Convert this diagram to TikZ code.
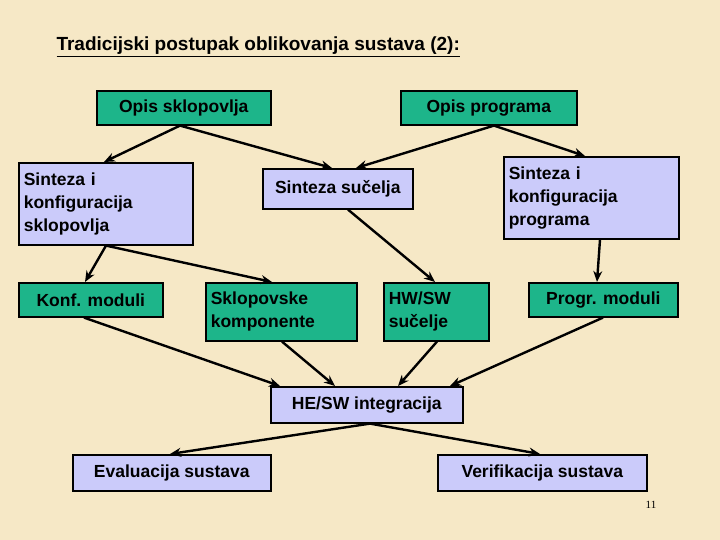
\documentclass[tikz,border=0pt]{standalone}
\usepackage{fontspec}
\setmainfont{Liberation Sans}
\newfontfamily\pgnum{Liberation Serif}
\usetikzlibrary{calc,arrows.meta}
\definecolor{bg}{HTML}{F6E8C6}
\definecolor{grn}{HTML}{1DB58A}
\definecolor{lav}{HTML}{CBCBFA}
\tikzset{
 bx/.style={draw=black,line width=1.6pt,anchor=north west,inner sep=3pt,align=left,font=\bfseries\fontsize{17.5}{23}\selectfont},
 gb/.style={bx,fill=grn},
 lb/.style={bx,fill=lav},
 con/.style={line width=2.4pt,-{Stealth[length=11pt,width=9pt]}}
}
\begin{document}
\begin{tikzpicture}[x=1pt,y=-1pt]
\fill[bg] (0,0) rectangle (720,540);
\node[anchor=west,font=\bfseries\fontsize{19}{21}\selectfont] (t) at (53,47) {\underline{Tradicijski postupak oblikovanja sustava (2):}};
\node[gb,minimum width=174,minimum height=34] (os) at (96,90) {Opis sklopovlja};
\node[gb,minimum width=176,minimum height=34,align=center] (op) at (400,90) {Opis programa};
\node[lb,minimum width=174,minimum height=82,text width=164] (ss) at (18,162) {Sinteza i\\konfiguracija\\sklopovlja};
\node[lb,minimum width=150,minimum height=40,align=center] (su) at (262,168) {Sinteza sučelja};
\node[lb,minimum width=175,minimum height=82,text width=165] (sp) at (503,156) {Sinteza i\\konfiguracija\\programa};
\node[gb,minimum width=144,minimum height=34] (km) at (18,282) {Konf. moduli};
\node[gb,minimum width=151,minimum height=58,text width=141] (sk) at (205,282) {Sklopovske\\komponente};
\node[gb,minimum width=105,minimum height=58,text width=95] (hw) at (383,282) {HW/SW\\sučelje};
\node[gb,minimum width=149,minimum height=34,align=center] (pm) at (528,282) {Progr. moduli};
\node[lb,minimum width=192,minimum height=36,align=center] (hs) at (270,386) {HE/SW integracija};
\node[lb,minimum width=198,minimum height=36,align=center] (ev) at (72,454) {Evaluacija sustava};
\node[lb,minimum width=209,minimum height=36,align=center] (ve) at (437,454) {Verifikacija sustava};
\node[font=\pgnum\fontsize{11}{12}\selectfont] (pg) at (651,505) {11};
% connectors
\draw[con] ($(os.south west)+(84,0)$) -- ($(ss.north west)+(86,0)$);
\draw[con] ($(os.south west)+(84,0)$) -- ($(su.north west)+(70,0)$);
\draw[con] ($(op.south west)+(94,0)$) -- ($(su.north west)+(94,0)$);
\draw[con] ($(op.south west)+(94,0)$) -- ($(sp.north west)+(82,0)$);
\draw[con] ($(ss.south west)+(88,0)$) -- ($(km.north west)+(67,0)$);
\draw[con] ($(ss.south west)+(88,0)$) -- ($(sk.north west)+(67,0)$);
\draw[con] ($(su.south west)+(86,0)$) -- ($(hw.north west)+(52,0)$);
\draw[con] ($(sp.south west)+(97,0)$) -- ($(pm.north west)+(69,0)$);
\draw[con] ($(km.south west)+(66,0)$) -- ($(hs.north west)+(10,0)$);
\draw[con] ($(sk.south west)+(77,0)$) -- ($(hs.north west)+(65,0)$);
\draw[con] ($(hw.south west)+(54,0)$) -- ($(hs.north west)+(128,0)$);
\draw[con] ($(pm.south west)+(75,0)$) -- ($(hs.north west)+(180,0)$);
\draw[con] ($(hs.south west)+(100,0)$) -- ($(ev.north west)+(98,0)$);
\draw[con] ($(hs.south west)+(100,0)$) -- ($(ve.north west)+(103,0)$);
\end{tikzpicture}
\end{document}
